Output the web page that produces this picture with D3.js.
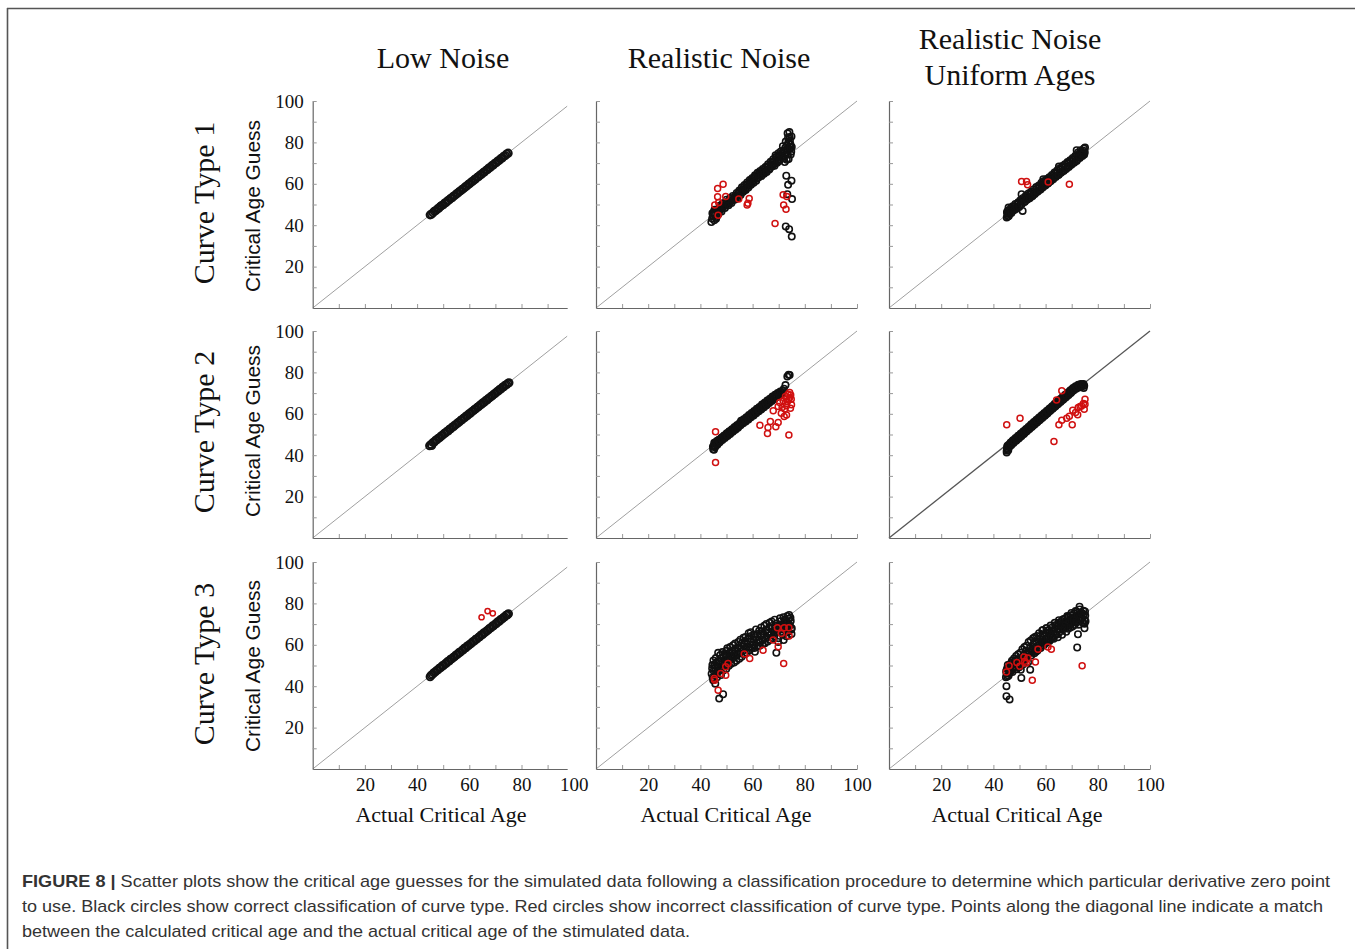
<!DOCTYPE html>
<html><head><meta charset="utf-8">
<script src="https://cdn.jsdelivr.net/npm/d3@7"></script>
<style>body{margin:0;background:#fff}svg{display:block}</style>
</head><body><svg id="chart" width="1355" height="949"></svg>
<script>
// ---------- texts & ticks ----------
const columnTitles = [["Low Noise"], ["Realistic Noise"], ["Realistic Noise", "Uniform Ages"]];
const rowLabels = ["Curve Type 1", "Curve Type 2", "Curve Type 3"];
const yAxisLabel = "Critical Age Guess";
const xAxisLabel = "Actual Critical Age";
const labelTicks = [20, 40, 60, 80, 100];
const minorTicks = [10, 20, 30, 40, 50, 60, 70, 80, 90, 100];
const captionBold = "FIGURE 8 |";
const captionLines = [
  " Scatter plots show the critical age guesses for the simulated data following a classification procedure to determine which particular derivative zero point",
  "to use. Black circles show correct classification of curve type. Red circles show incorrect classification of curve type. Points along the diagonal line indicate a match",
  "between the calculated critical age and the actual critical age of the stimulated data."
];

// ---------- data: [actual critical age, critical age guess] ----------
const type1LowBlack = [[45,45],[45.5,45.3],[46.1,46],[46.6,46.7],[47.2,47.1],[47.8,47.9],[48.3,48.2],[48.9,49],[49.4,49.5],[50,49.9],[50.6,50.7],[51.1,51],[51.7,51.8],[52.2,52.1],[52.8,52.9],[53.4,53.3],[53.9,54],[54.5,54.4],[55.1,55.2],[55.6,55.5],[56.2,56.3],[56.8,56.7],[57.3,57.4],[57.9,57.8],[58.5,58.6],[59,58.9],[59.6,59.7],[60.2,60.1],[60.7,60.8],[61.3,61.2],[61.9,62],[62.4,62.3],[63,63.1],[63.6,63.5],[64.1,64.2],[64.7,64.6],[65.3,65.4],[65.8,65.7],[66.4,66.5],[67,66.9],[67.5,67.6],[68.1,68],[68.7,68.8],[69.2,69.1],[69.8,69.9],[70.4,70.3],[70.9,71],[71.5,71.4],[72.1,72.2],[72.6,72.5],[73.2,73.3],[73.8,73.7],[74.3,74.4],[74.9,74.8]];

const type1RealBlack = [[44.2,41.5],[44.5,43.2],[44.8,44.6],[45.1,46.2],[45.3,42.4],[45.6,45.1],[45.9,47.3],[46.2,44],[46.6,46.5],[47,48.1],[47.4,47],[47.9,48.8],[48.3,47.9],[48.8,49.6],[49.2,50.5],[49.7,49.4],[50.2,51.2],[50.6,50.3],[51.1,52],[51.6,51.5],[52.1,52.8],[52.6,52.2],[53.1,53.6],[53.6,54.5],[54.1,53.9],[54.6,55.4],[55.1,56.3],[55.6,55.5],[56.1,57.1],[56.6,58.2],[57.1,57.5],[57.6,59],[58.1,59.8],[58.6,59.1],[59.1,60.7],[59.6,61.9],[60.1,61.2],[60.6,62.7],[61.1,63.5],[61.6,62.6],[62.1,64.3],[62.6,65.2],[63.1,64.5],[63.6,66.1],[64.1,65.4],[64.6,67],[65.1,66.3],[65.6,67.8],[66.1,68.6],[66.6,67.5],[67.1,69.3],[67.6,70.5],[68.1,69.5],[68.6,71.4],[69.1,72.6],[69.6,70.8],[70.1,73.5],[70.5,71.9],[71,74.4],[71.4,72.8],[71.8,76],[72.2,73.7],[72.5,77.4],[72.9,75.3],[73.2,78.6],[73.5,74.2],[73.7,80.2],[74,76.8],[74.2,82.5],[73.4,84.4],[74.1,85],[74.5,79],[74.8,75.5],[75,77.8],[72.3,70.5],[73.8,72],[68.8,73.8],[72.9,63.9],[74.9,61.5],[73.6,59.5],[73.3,55],[75.1,52.6],[72.7,39.4],[74,38.1],[75,34.5],
  [44.6,45.8],[45.4,47.5],[46,43.1],[46.9,45.4],[47.6,49.5],[48.1,46.6],[48.6,50.6],[49.4,48.3],[50,52.3],[50.8,49.6],[51.4,53.1],[51.9,50.7],[52.4,54.1],[53.3,52.4],[53.9,55.6],[54.4,53],[54.9,56.8],[55.4,54.6],[55.9,58.3],[56.4,56.2],[56.9,59.4],[57.4,57],[57.9,60.6],[58.4,58.2],[58.9,61.8],[59.4,59.6],[59.9,62.8],[60.4,60.5],[60.9,64.1],[61.4,61.5],[61.9,65.3],[62.4,63.2],[62.9,66.2],[63.4,63.8],[63.9,67.2],[64.4,64.8],[64.9,68.1],[65.4,65.7],[65.9,69.4],[66.4,66.9],[66.9,70.6],[67.4,68.4],[67.9,71.8],[68.4,68.7],[68.9,72.9],[69.4,70.2],[69.9,74.8],[70.3,71.1],[70.8,75.6],[71.2,73.3],[71.6,78.2],[72,72.3],[72.7,80.4],[73,76.5],[73.6,82.4],[74.3,80.8],[74.6,74.1],[74.9,82.9],[73.1,71.6],[74.4,77.5]];
const type1RealRed = [[46.6,57.7],[48.7,59.8],[46.6,53.7],[49.7,53.9],[45.5,49.7],[47,51],[46.8,44.8],[54.7,52.6],[58.7,52.9],[57.9,49.7],[58.2,50.6],[71.7,54.7],[73.1,53.9],[71.9,49.7],[72.8,47.7],[68.6,40.8]];

const type1UniBlack = [[45.1,43.7],[45.3,45.6],[45.6,47.1],[45.9,44.5],[46.3,46.2],[46.7,48.3],[47.1,46.9],[47.6,48],[48.1,49.2],[48.6,47.8],[49.1,49.9],[49.6,51.1],[50.1,49.6],[50.6,51.4],[50.8,55],[51.2,46.9],[51.6,52.3],[52.1,51.5],[52.6,53.4],[53.1,52.6],[53.6,54.6],[54.1,53.5],[54.6,55.2],[55.1,54.3],[55.6,56.4],[56.1,55.7],[56.6,57.6],[57.1,56.5],[57.6,58.4],[58.1,57.4],[58.6,59.8],[59.1,62.2],[59.1,58.7],[59.6,60.3],[60.1,59.6],[60.6,61.5],[61.1,60.5],[61.6,62.4],[62.1,61.6],[62.6,63.7],[63.1,62.8],[63.6,64.9],[64.1,63.9],[64.6,65.6],[65.1,68.3],[65.1,64.5],[65.6,66.8],[66.1,65.7],[66.6,67.9],[67.1,66.6],[67.6,68.5],[68.1,67.8],[68.6,69.9],[69.1,68.7],[69.6,70.9],[70.1,69.7],[70.6,71.8],[71.1,70.5],[71.6,73.1],[71.9,76.2],[72.1,71.6],[72.6,74.2],[73.1,72.5],[73.6,75.1],[74.1,73.4],[74.5,76],[74.8,74.2],[75.1,77.5],[75,75.3],
  [45.2,46.4],[45.5,44.2],[45.8,48.5],[46.1,45.3],[46.5,47.4],[46.9,45.9],[47.4,49.1],[47.9,47.2],[48.4,50.3],[48.9,48.8],[49.4,50.7],[49.9,48.8],[50.4,52.2],[50.9,50.3],[51.4,53.2],[51.9,51.2],[52.4,54.2],[52.9,52.3],[53.4,55.3],[53.9,53],[54.4,56.1],[54.9,54],[55.4,57.3],[55.9,55.1],[56.4,58.4],[56.9,56.2],[57.4,59.2],[57.9,57.1],[58.4,60.5],[58.9,58.2],[59.4,61.3],[59.9,59.2],[60.4,62.3],[60.9,60.1],[61.4,63.2],[61.9,61.2],[62.4,64.3],[62.9,62.2],[63.4,65.4],[63.9,63.3],[64.4,66.4],[64.9,64.2],[65.4,67.4],[65.9,65.3],[66.4,68.6],[66.9,66.2],[67.4,69.4],[67.9,67.2],[68.4,70.5],[68.9,68.1],[69.4,71.4],[69.9,69.2],[70.4,72.5],[70.9,70.2],[71.4,73.5],[71.9,71],[72.4,75.1],[72.9,73.2],[73.4,76.2],[73.9,74.1],[74.4,74.8],[74.7,77]];
const type1UniRed = [[50.8,61.1],[52.7,61.1],[53.1,59.5],[61,60.9],[69.1,59.8]];

const type2LowBlack = [[44.8,44.6],[45.3,45.2],[45.6,44.7],[46.1,46.1],[46.6,46.4],[47.1,47.2],[47.6,47.5],[48.1,48.2],[48.7,48.5],[49.2,49.3],[49.7,49.6],[50.3,50.4],[50.8,50.7],[51.3,51.4],[51.9,51.7],[52.4,52.5],[52.9,52.8],[53.5,53.6],[54,53.9],[54.5,54.6],[55.1,55],[55.6,55.7],[56.1,56],[56.7,56.8],[57.2,57.1],[57.7,57.8],[58.3,58.2],[58.8,58.9],[59.3,59.2],[59.9,60],[60.4,60.3],[60.9,61],[61.5,61.4],[62,62.1],[62.5,62.4],[63.1,63.2],[63.6,63.5],[64.1,64.2],[64.7,64.6],[65.2,65.3],[65.7,65.6],[66.3,66.4],[66.8,66.7],[67.3,67.4],[67.9,67.8],[68.4,68.5],[68.9,68.8],[69.5,69.6],[70,69.9],[70.5,70.6],[71.1,71],[71.6,71.7],[72.1,72],[72.7,72.8],[73.2,73.1],[73.7,73.8],[74.3,74.1],[74.8,74.7],[75.2,75]];

const type2RealBlack = [[44.9,42.9],[45.1,44.5],[45.3,46],[45.6,43.8],[45.9,45.4],[46.3,46.8],[46.7,45.6],[47.1,47.5],[47.6,46.9],[48.1,48.6],[48.6,47.8],[49.1,49.5],[49.6,48.9],[50.1,50.6],[50.6,49.8],[51.1,51.6],[51.6,50.9],[52.1,52.5],[52.6,51.8],[53.1,53.6],[53.6,52.7],[54.1,54.6],[54.6,53.9],[55.1,55.5],[55.6,56.6],[56.1,55.7],[56.6,57.4],[57.1,56.6],[57.6,58.3],[58.1,57.5],[58.6,59.4],[59.1,58.6],[59.6,60.4],[60.1,59.5],[60.6,61.3],[61.1,60.4],[61.6,62.4],[62.1,61.5],[62.6,63.3],[63.1,62.6],[63.6,64.5],[64.1,63.6],[64.6,65.3],[65.1,64.4],[65.6,66.4],[66.1,65.5],[66.6,67.3],[67.1,66.6],[67.6,68.4],[68.1,67.5],[68.6,69.2],[69.1,68.3],[69.6,70.1],[70.1,69.2],[70.6,70.8],[71,69.5],[71.6,71.3],[72.6,73.9],[73.3,78],[74.2,78.7],[73.8,78.9],
  [44.8,44.1],[45.2,42.6],[45.5,45.6],[45.8,44.4],[46.1,46.4],[46.5,45],[46.9,47.2],[47.4,46.2],[47.9,48.1],[48.4,47.3],[48.9,49.1],[49.4,48.3],[49.9,50.1],[50.4,49.3],[50.9,51.2],[51.4,50.3],[51.9,52.1],[52.4,51.3],[52.9,53.1],[53.4,52.3],[53.9,54.2],[54.4,53.3],[54.9,55.1],[55.4,54.5],[55.9,56.3],[56.4,55.4],[56.9,57.2],[57.4,56.3],[57.9,58.1],[58.4,57.2],[58.9,59.2],[59.4,58.3],[59.9,60.1],[60.4,59.2],[60.9,61.1],[61.4,60.3],[61.9,62.1],[62.4,61.2],[62.9,63.1],[63.4,62.2],[63.9,64.2],[64.4,63.2],[64.9,65.1],[65.4,64.1],[65.9,66.1],[66.4,65.2],[66.9,67.1],[67.4,66.2],[67.9,68.1],[68.4,67.2],[68.9,69],[69.4,68.1],[69.9,69.8],[70.4,68.9],[70.8,70.3],[71.3,70.4],[72,72.1]];
const type2RealRed = [[45.8,51.3],[45.8,36.5],[62.8,54.5],[65.9,53.4],[65.7,50.5],[66.8,56.3],[68.9,53.7],[69.8,55.8],[67.9,61.5],[69.8,63.5],[71,60.3],[72.1,58.7],[73,59.4],[73.9,49.7],[70.4,65.5],[71.7,66.3],[72.6,68.4],[73.6,69.5],[74.2,67.9],[74.9,64.4],[73,63.9],[74.2,70.3],[72.3,62.3],[73.3,65.8],[71.3,63.1],[74.6,69.1],[73.9,66.8],[74.8,67],[72.9,67.2],[74.5,62.7]];

const type2UniBlack = [[45.1,41.3],[45.2,43],[45.4,44.6],[45.7,42.4],[46,44],[46.4,45.5],[46.8,44.8],[47.2,46.6],[47.7,45.9],[48.2,47.7],[48.7,47],[49.2,48.8],[49.7,48.1],[50.2,49.9],[50.7,49.2],[51.2,51],[51.7,50.3],[52.2,52.1],[52.7,51.4],[53.2,53.2],[53.7,52.5],[54.2,54.3],[54.7,53.6],[55.2,55.4],[55.7,54.7],[56.2,56.5],[56.7,55.8],[57.2,57.6],[57.7,56.9],[58.2,58.7],[58.7,58],[59.2,59.8],[59.7,59.1],[60.2,60.9],[60.7,60.2],[61.2,62],[61.7,61.3],[62.2,63.1],[62.7,62.4],[63.2,64.2],[63.7,63.5],[64.2,65.3],[64.7,64.6],[65.2,66.4],[65.7,65.7],[66.2,67.5],[66.7,66.8],[67.2,68.6],[67.7,67.9],[68.2,69.7],[68.7,69],[69.2,70.8],[69.7,70.1],[70.2,71.9],[70.7,71.2],[71.2,72.8],[71.7,72.1],[72.2,73.4],[72.7,72.7],[73.2,74],[73.7,73.1],[74.2,74.1],[74.8,73.5],[74.6,72.5],
  [45.1,42.2],[45.3,44.1],[45.6,43.2],[45.9,45],[46.2,44.3],[46.6,46.1],[47,45.3],[47.5,47.2],[48,46.4],[48.5,48.3],[49,47.5],[49.5,49.4],[50,48.6],[50.5,50.5],[51,49.7],[51.5,51.6],[52,50.8],[52.5,52.7],[53,51.9],[53.5,53.8],[54,53],[54.5,54.9],[55,54.1],[55.5,56],[56,55.2],[56.5,57.1],[57,56.3],[57.5,58.2],[58,57.4],[58.5,59.3],[59,58.5],[59.5,60.4],[60,59.6],[60.5,61.5],[61,60.7],[61.5,62.6],[62,61.8],[62.5,63.7],[63,62.9],[63.5,64.8],[64,64],[64.5,65.9],[65,65.1],[65.5,67],[66,66.2],[66.5,68.1],[67,67.3],[67.5,69.2],[68,68.4],[68.5,70.3],[69,69.5],[69.5,71.4],[70,70.6],[70.5,72.5],[71,71.7],[71.5,73.3],[72,72.6],[72.5,74],[73,73.3],[73.5,74.4],[74,73.6],[74.5,74.4]];
const type2UniRed = [[45.1,54.7],[50.2,57.9],[63.2,46.6],[64.2,66.7],[66.2,71.1],[65.1,54.7],[66.2,56.9],[68.1,57.9],[69.1,58.8],[70.2,54.7],[70.4,61.7],[71.5,60.6],[72.3,59.5],[72.5,63],[73.8,63.8],[74.8,62.2],[75.1,67],[74.5,65],[73.2,63.5],[75.1,64.6]];

const type3LowBlack = [[45,44.6],[45.4,45.3],[45.9,45.7],[46.4,46.5],[46.9,46.8],[47.5,47.6],[48,47.9],[48.5,48.7],[49.1,49],[49.6,49.8],[50.1,50],[50.7,50.8],[51.2,51.1],[51.7,51.9],[52.3,52.2],[52.8,53],[53.3,53.2],[53.9,54],[54.4,54.3],[54.9,55.1],[55.5,55.4],[56,56.2],[56.5,56.4],[57.1,57.2],[57.6,57.5],[58.1,58.3],[58.7,58.6],[59.2,59.4],[59.7,59.6],[60.3,60.4],[60.8,60.7],[61.3,61.5],[61.9,61.8],[62.4,62.6],[62.9,62.8],[63.5,63.6],[64,63.9],[64.5,64.7],[65.1,65],[65.6,65.8],[66.1,66],[66.7,66.8],[67.2,67.1],[67.7,67.9],[68.3,68.2],[68.8,69],[69.3,69.2],[69.9,70],[70.4,70.3],[70.9,71.1],[71.5,71.4],[72,72.2],[72.5,72.4],[73.1,73.2],[73.6,73.5],[74.1,74.3],[74.6,74.5],[75,75]];
const type3LowRed = [[64.7,73.3],[67,76.3],[69,75.2]];

const type3RealBlack = [[44.3,46],[44.5,48.5],[44.7,44.2],[44.9,42.9],[45.1,47.3],[45.3,50.1],[45.5,45.2],[45.8,48.8],[46,51.3],[46.3,46.7],[46.6,49.6],[46.8,56.1],[47,52.2],[47.2,34],[47.4,47.8],[47.7,50.6],[48,53.4],[48.3,49.1],[48.7,36.1],[48.6,51.9],[49,54.3],[49.3,50.4],[49.7,52.8],[50,57.1],[50.1,55.3],[50.4,51.5],[50.8,53.9],[51.2,56.2],[51.5,52.7],[51.9,54.8],[52.3,57.3],[52.7,53.6],[53.1,55.9],[53.5,58.3],[53.9,54.7],[54.3,56.8],[54.7,59.6],[55.1,55.9],[55.5,58],[55.9,60.7],[56.3,57.1],[56.7,59.3],[57.1,61.8],[57.5,58.2],[57.9,60.4],[58.3,63],[58.7,59.1],[59.1,61.5],[59.5,64.3],[59.9,60.2],[60.3,62.6],[60.7,58.4],[61.1,63.7],[61.5,61],[61.9,65.2],[62.3,62.1],[62.7,59.6],[63.1,64.4],[63.5,66.3],[63.9,62.5],[64.3,65.1],[64.7,60.8],[65.1,67.2],[65.5,63.6],[65.9,66],[66.3,68.3],[66.7,62.4],[67.1,65.2],[67.5,69.1],[67.9,66.7],[68.3,64.1],[68.7,68.4],[69.1,56.1],[69.1,70.3],[69.5,66.5],[69.9,63.2],[70.3,69.2],[70.7,71.4],[71.1,67.4],[71.5,64.8],[71.9,62.3],[71.9,70.2],[72.3,72.1],[72.7,68.3],[73.1,65.9],[73.3,67.9],[73.5,70.8],[73.9,72.6],[74,74.4],[74.3,69.3],[74.6,71.5],[74.9,65.2],[75,68],
  [44.6,50.2],[45,52.4],[45.7,41.2],[45.9,53.6],[46.4,44.3],[46.9,47.1],[47.5,55],[47.9,45.4],[48.4,56.5],[48.8,47.6],[49.4,55.8],[49.9,48.3],[50.3,58.3],[50.9,49.9],[51.4,58.9],[51.8,50.8],[52.5,59.8],[52.9,51.4],[53.3,60.6],[53.8,52.3],[54.5,61.4],[54.9,53.3],[55.3,62.5],[55.8,54.2],[56.5,63.4],[56.9,55.4],[57.3,63.8],[57.8,56.1],[58.5,65.6],[58.9,57.4],[59.3,66.1],[59.8,58.5],[60.5,64.9],[60.9,56.6],[61.3,67.4],[61.8,59.3],[62.5,66.8],[62.9,61.1],[63.3,68.4],[63.8,60.3],[64.5,69.2],[64.9,62.9],[65.3,70.1],[65.8,61.6],[66.5,70.6],[66.9,64.7],[67.3,71.3],[67.8,63.1],[68.5,72.1],[68.9,65.9],[69.3,67.8],[69.8,61.4],[70.5,72.8],[70.9,66.3],[71.3,69.1],[71.8,73.3],[72.5,70.9],[72.9,64.1],[73.3,73.9],[73.8,66.4],[74.5,73.1],[74.8,67.4]];
const type3RealRed = [[45.3,43.7],[45.5,42.9],[46.8,38.1],[47.8,46.1],[49.7,45.3],[49.7,49.4],[50.6,51],[56.8,55.5],[58.9,53.4],[64,57.4],[67.9,62.3],[69.8,59],[69.5,68.2],[71,65.5],[72.1,68.2],[73.9,68.2],[74,64.2],[71.9,51]];

const type3UniBlack = [[45,40],[45,35.2],[46.2,33.6],[44.8,44.3],[45,46.2],[45.2,48.4],[45.5,50.3],[45.8,45.1],[46.1,47.6],[46.5,49.5],[46.9,51.3],[47.3,46.8],[47.7,48.9],[48.1,50.8],[48.5,52.6],[48.9,48.2],[49.3,50.3],[49.7,53.1],[50.1,51.2],[50.5,47.9],[50.7,44],[50.9,53.6],[51.3,50.5],[51.7,55.2],[52.1,52.6],[52.5,57.1],[52.9,54],[53.3,51.6],[53.7,56.5],[54.1,48],[54.1,58.4],[54.5,54.8],[54.9,57.2],[55.2,63.2],[55.3,60.3],[55.7,55.9],[56.1,58.6],[56.5,61.7],[56.9,57.2],[57.3,59.9],[57.7,63.1],[58.1,58.5],[58.5,61.3],[58.9,64.5],[59,67.2],[59.3,59.8],[59.7,62.6],[60.1,65.8],[60.5,61.1],[60.9,63.9],[61.3,67.1],[61.7,62.4],[62.1,65.2],[62.5,68.3],[62.9,63.7],[63.3,66.4],[63.7,69.5],[64.1,64.9],[64.5,67.6],[64.9,70.6],[65.3,66.1],[65.7,68.8],[66.1,71.5],[66.5,67.3],[66.9,69.9],[67.3,72.6],[67.7,68.5],[68.1,71],[68.5,73.4],[68.9,69.6],[69.3,72.1],[69.7,74.3],[70.1,70.5],[70.5,73],[70.9,75.1],[71.3,71.4],[71.7,73.9],[72.1,58.7],[72.1,76],[72.4,65.1],[72.5,72.3],[72.9,74.7],[73,78.4],[73.3,71.5],[73.7,75.5],[74.1,72.8],[74.5,76.5],[74.9,68],[74.9,70.2],[75.2,74.1],[75,72],
  [44.9,47.3],[45.3,44.7],[45.6,48.8],[46,46],[46.3,50.6],[46.7,47.4],[47.1,52.3],[47.5,48.1],[47.9,53.4],[48.3,49.5],[48.7,54.6],[49.1,50.9],[49.5,55.4],[49.9,49.2],[50.3,56.2],[50.7,51.7],[51.1,57.8],[51.5,52.4],[51.9,58.9],[52.3,54.1],[52.7,59.6],[53.1,55.2],[53.5,61.3],[53.9,56.1],[54.3,62.1],[54.7,56.4],[55.5,58.4],[55.9,63.8],[56.3,56.7],[56.7,64.2],[57.1,58.1],[57.5,65.6],[57.9,60.6],[58.3,59.4],[58.7,66.9],[59.1,61.4],[59.5,65.1],[59.9,60.8],[60.3,68.1],[60.7,62.7],[61.1,65.9],[61.5,61.8],[61.9,69.3],[62.3,63.9],[62.7,66.9],[63.1,62.9],[63.5,70.6],[63.9,65.3],[64.3,68.8],[64.7,63.6],[65.1,71.9],[65.5,67.4],[65.9,69.7],[66.3,64.8],[66.7,72.4],[67.1,68.2],[67.5,70.8],[67.9,66.3],[68.3,73.9],[68.7,67.7],[69.1,71.1],[69.5,68.4],[69.9,75.4],[70.3,68.9],[70.7,72.2],[71.1,69.6],[71.5,76.3],[71.9,70.8],[72.3,74.3],[72.7,69.7],[73.1,77.1],[73.5,73.3],[73.9,75.3],[74.3,70.7],[74.7,74.8],[75.1,76.1],[75.3,71.4]];
const type3UniRed = [[45,46.9],[46,49.9],[49,51.5],[50.1,49.6],[51.7,54.1],[52.6,51.2],[53.2,53.6],[56.1,51.7],[54.9,42.9],[57.1,57.9],[60.9,58.9],[62.2,57.9],[74,49.9],[52,52]];

// ---------- panel table ----------
const panels = [
  {row:0, col:0, black:type1LowBlack, red:[]},
  {row:0, col:1, black:type1RealBlack, red:type1RealRed},
  {row:0, col:2, black:type1UniBlack, red:type1UniRed},
  {row:1, col:0, black:type2LowBlack, red:[]},
  {row:1, col:1, black:type2RealBlack, red:type2RealRed},
  {row:1, col:2, black:type2UniBlack, red:type2UniRed},
  {row:2, col:0, black:type3LowBlack, red:type3LowRed},
  {row:2, col:1, black:type3RealBlack, red:type3RealRed},
  {row:2, col:2, black:type3UniBlack, red:type3UniRed}
];

// ---------- layout ----------
const colX0 = [312.7, 596, 889];
const colW = 261;
const rowY0 = [308, 538, 769];
const rowH = 207;
const SERIF = "'Liberation Serif','Times New Roman',serif";
const SANS = "'Liberation Sans',Arial,sans-serif";

const svg = d3.select("#chart");
svg.append("rect").attr("width",1355).attr("height",949).attr("fill","#fff");

// frame
svg.append("line").attr("x1",7).attr("x2",1355).attr("y1",8.5).attr("y2",8.5).attr("stroke","#555").attr("stroke-width",1.6);
svg.append("line").attr("x1",7.5).attr("x2",7.5).attr("y1",8).attr("y2",949).attr("stroke","#555").attr("stroke-width",1.6);

panels.forEach(p => {
  const x = d3.scaleLinear().domain([0,100]).range([colX0[p.col], colX0[p.col]+colW]);
  const y = d3.scaleLinear().domain([0,100]).range([rowY0[p.row], rowY0[p.row]-rowH]);
  const end = p.col === 0 ? 97.5 : 100;
  const low = p.col === 0;
  const g = svg.append("g");

  // diagonal
  g.append("line")
    .attr("x1", x(0)).attr("y1", y(0)).attr("x2", x(end)).attr("y2", y(end))
    .attr("stroke", (p.row===1 && p.col===2) ? "#555" : "#a0a0a0")
    .attr("stroke-width", (p.row===1 && p.col===2) ? 1.3 : 1);

  // axes
  const xa = x.copy().domain([0,end]).range([x(0), x(end)]);
  const gx = g.append("g").attr("transform",`translate(0,${y(0)})`)
    .call(d3.axisBottom(xa).tickValues(minorTicks.filter(v => v <= end)).tickSize(-4).tickSizeOuter(0).tickFormat(""));
  const gy = g.append("g").attr("transform",`translate(${x(0)},0)`)
    .call(d3.axisLeft(y).tickValues(minorTicks).tickSize(-4).tickSizeOuter(0).tickFormat(""));
  [gx, gy].forEach(a => {
    a.select(".domain").attr("stroke","#666").attr("stroke-width",1.2);
    a.selectAll(".tick line").attr("stroke","#999").attr("stroke-width",1);
  });

  // tick labels
  if (p.col === 0) {
    const gl = g.append("g").attr("transform",`translate(${x(0)},0)`)
      .call(d3.axisLeft(y).tickValues(labelTicks).tickSize(0).tickPadding(9));
    gl.select(".domain").remove();
    gl.selectAll("text").attr("font-family",SERIF).attr("font-size",19).attr("fill","#111");
  }
  if (p.row === 2) {
    const gl = g.append("g").attr("transform",`translate(0,${y(0)})`)
      .call(d3.axisBottom(x).tickValues(labelTicks).tickSize(0).tickPadding(8.5));
    gl.select(".domain").remove();
    gl.selectAll("text").attr("font-family",SERIF).attr("font-size",19).attr("fill","#111");
  }

  // points
  g.append("g").selectAll("circle").data(p.black).join("circle")
    .attr("cx", d => x(d[0])).attr("cy", d => y(d[1]))
    .attr("r", low ? 3.6 : 3.2).attr("fill","none")
    .attr("stroke","#111").attr("stroke-width", low ? 1.9 : 1.6);
  g.append("g").selectAll("circle").data(p.red).join("circle")
    .attr("cx", d => x(d[0])).attr("cy", d => y(d[1]))
    .attr("r", low ? 2.6 : 3).attr("fill","none")
    .attr("stroke","#d01010").attr("stroke-width", 1.5);
});

// column titles
const titleCx = [443, 719, 1010];
columnTitles.forEach((lines, i) => {
  const base = lines.length === 1 ? 68 : 49;
  lines.forEach((t, j) => {
    svg.append("text").attr("x", titleCx[i]).attr("y", base + j*36)
      .attr("text-anchor","middle").attr("font-family",SERIF).attr("font-size",30).attr("fill","#111").text(t);
  });
});

// row labels
const rowCy = [203, 432, 664];
const axisCy = [206, 431, 666];
rowLabels.forEach((t, i) => {
  svg.append("text").attr("transform",`translate(214,${rowCy[i]}) rotate(-90)`)
    .attr("text-anchor","middle").attr("font-family",SERIF).attr("font-size",30).attr("fill","#111").text(t);
  svg.append("text").attr("transform",`translate(259.5,${axisCy[i]}) rotate(-90)`)
    .attr("text-anchor","middle").attr("font-family",SANS).attr("font-size",20)
    .attr("textLength",172).attr("lengthAdjust","spacingAndGlyphs").attr("fill","#111").text(yAxisLabel);
});

// x axis labels
[441, 726, 1017].forEach(cx => {
  svg.append("text").attr("x", cx).attr("y", 822).attr("text-anchor","middle")
    .attr("font-family",SERIF).attr("font-size",22).attr("fill","#111").text(xAxisLabel);
});

// caption
const CAP = "'Liberation Sans Narrow','Arial Narrow','Liberation Sans',sans-serif";
const capLens = [1308, 1301, 668];
const capY = [887, 912, 937];
captionLines.forEach((t, i) => {
  const tx = svg.append("text").attr("x",22).attr("y",capY[i]).attr("font-family",CAP).attr("font-size",17).attr("fill","#333")
    .attr("textLength",capLens[i]).attr("lengthAdjust","spacingAndGlyphs");
  if (i === 0) tx.append("tspan").attr("font-weight","bold").text(captionBold);
  tx.append("tspan").text(t);
});
</script></body></html>
